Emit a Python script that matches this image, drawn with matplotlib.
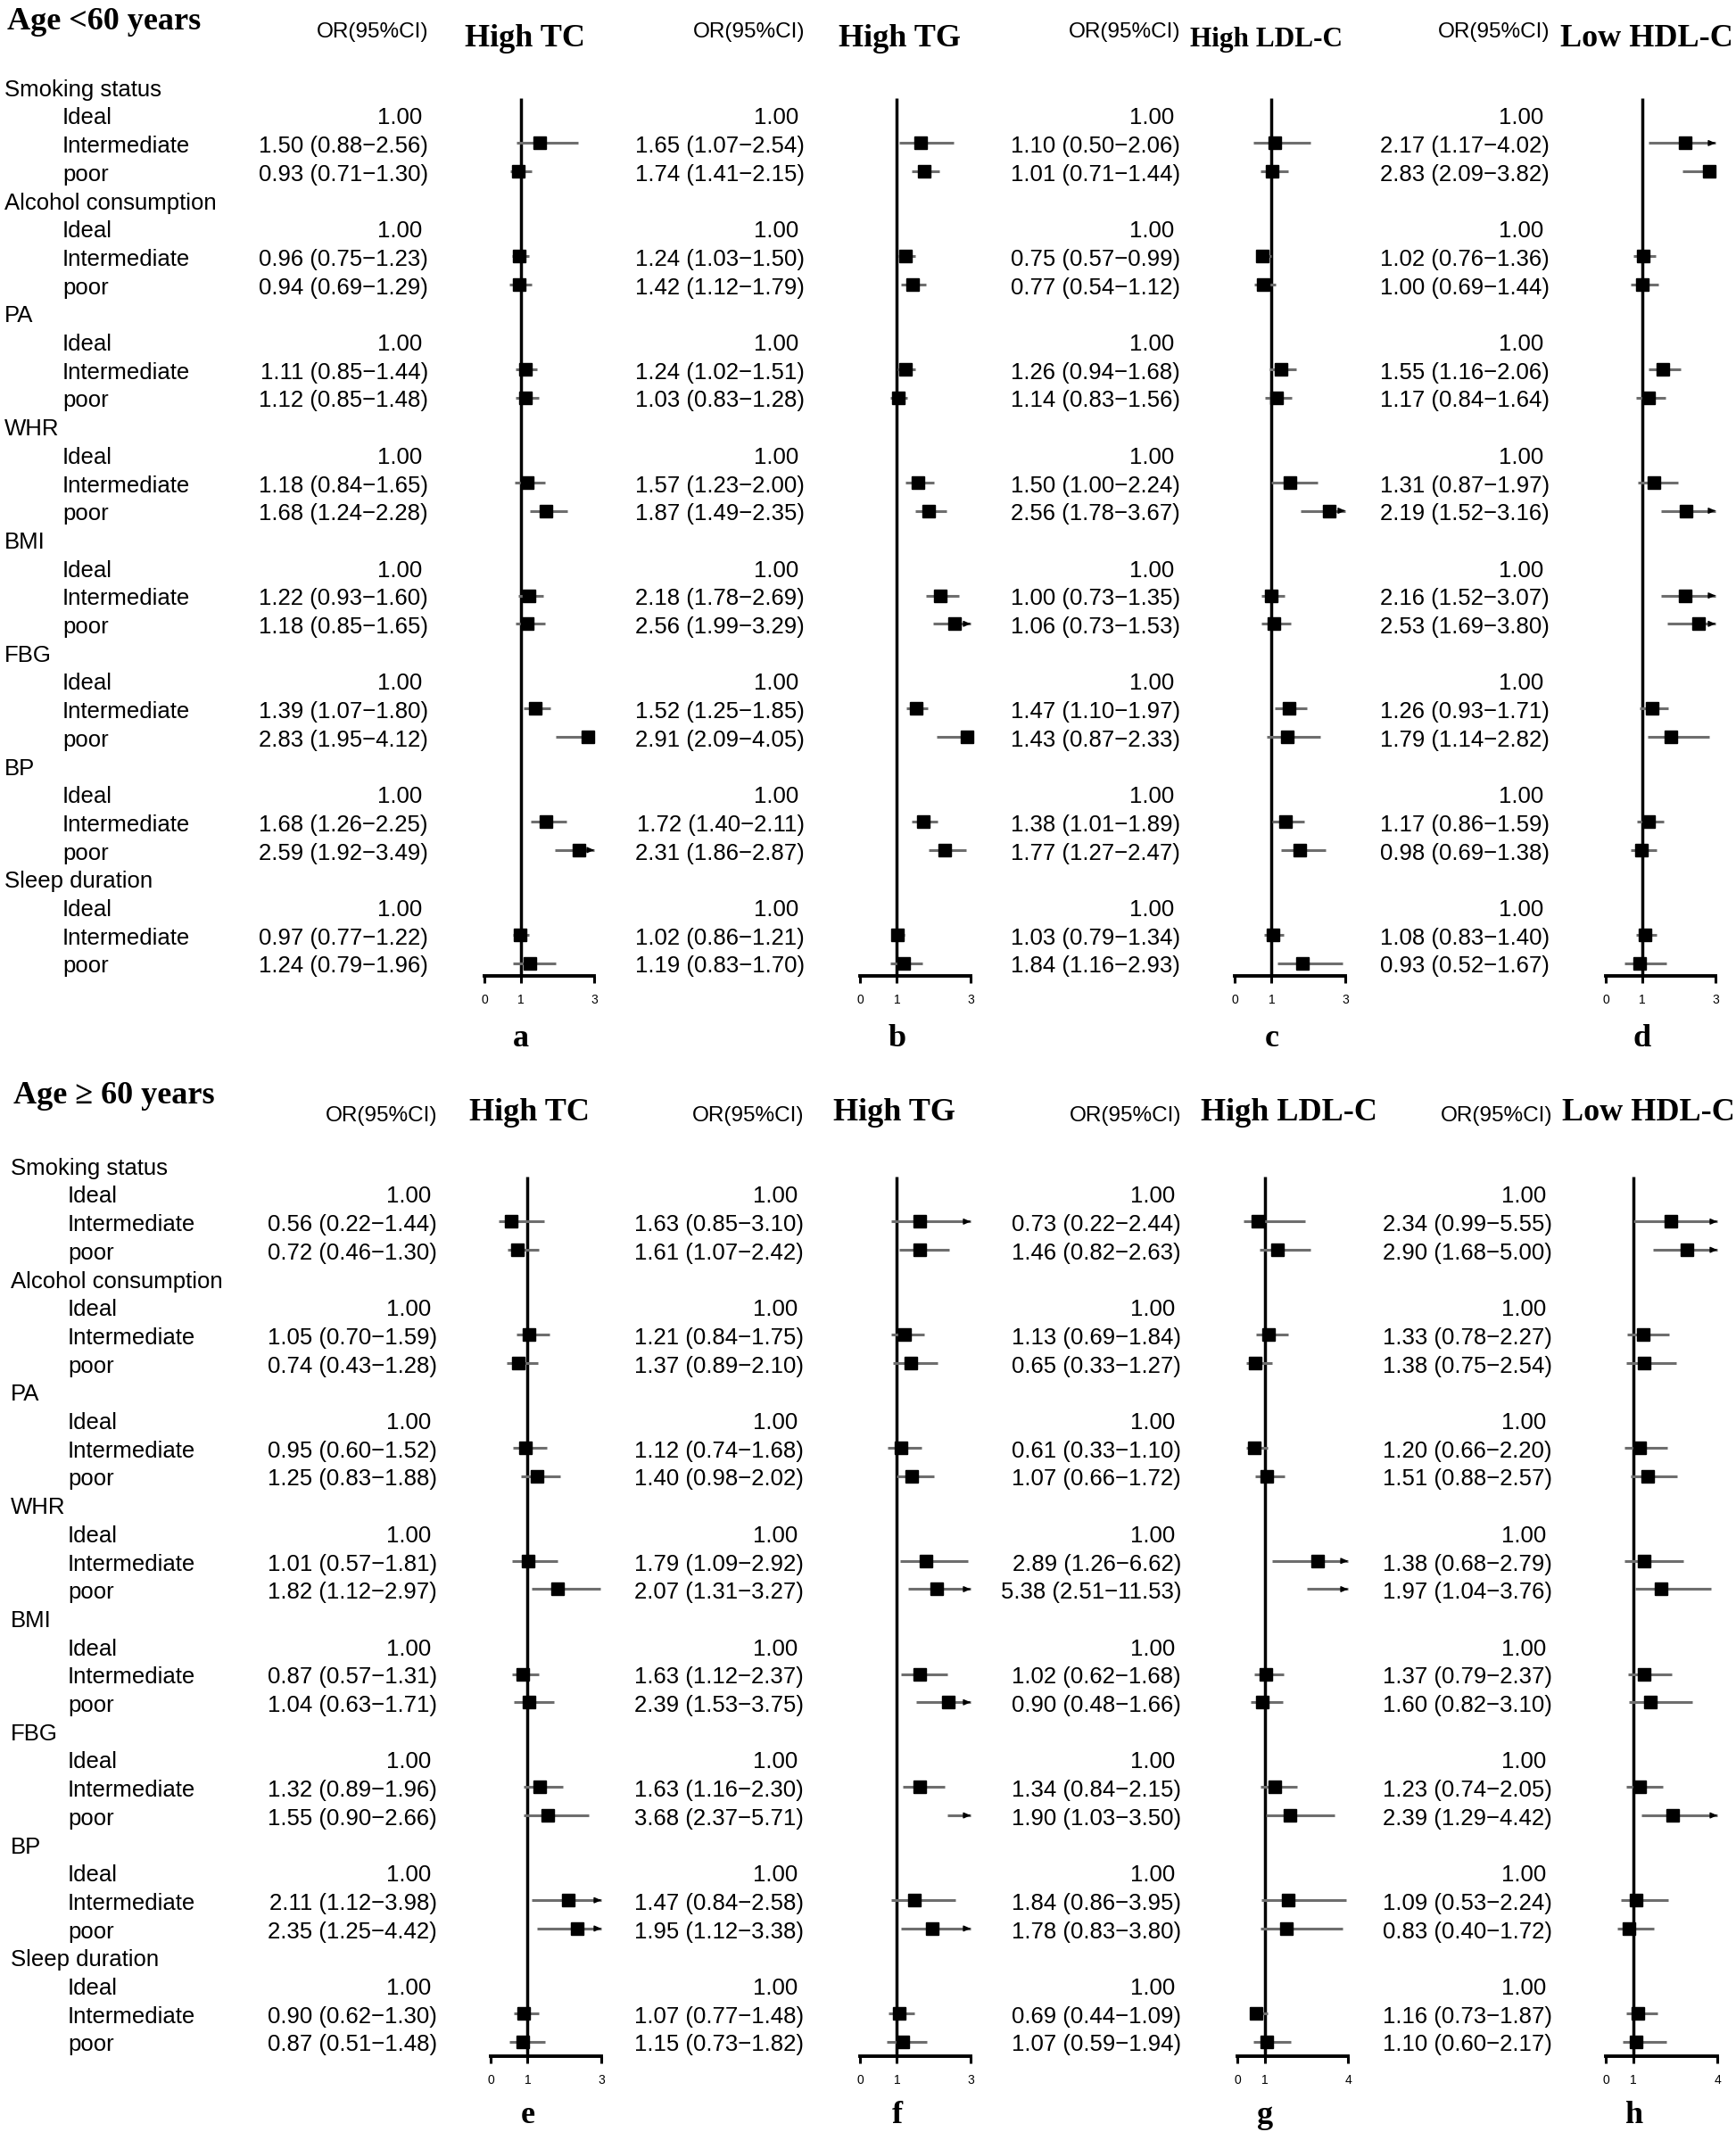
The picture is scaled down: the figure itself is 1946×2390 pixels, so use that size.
import matplotlib
matplotlib.use("Agg")
import matplotlib.pyplot as plt
from matplotlib import font_manager

# ---- data -------------------------------------------------------------
groups = ["Smoking status", "Alcohol consumption", "PA", "WHR", "BMI",
          "FBG", "BP", "Sleep duration"]
levels = ["Ideal", "Intermediate", "poor"]
outcomes = ["High TC", "High TG", "High LDL-C", "Low HDL-C"]

# (OR, lower, upper) for Intermediate / poor of each group, ideal = 1.00
young_tc = [(1.50, 0.88, 2.56), (0.93, 0.71, 1.30), (0.96, 0.75, 1.23), (0.94, 0.69, 1.29),
            (1.11, 0.85, 1.44), (1.12, 0.85, 1.48), (1.18, 0.84, 1.65), (1.68, 1.24, 2.28),
            (1.22, 0.93, 1.60), (1.18, 0.85, 1.65), (1.39, 1.07, 1.80), (2.83, 1.95, 4.12),
            (1.68, 1.26, 2.25), (2.59, 1.92, 3.49), (0.97, 0.77, 1.22), (1.24, 0.79, 1.96)]
young_tg = [(1.65, 1.07, 2.54), (1.74, 1.41, 2.15), (1.24, 1.03, 1.50), (1.42, 1.12, 1.79),
            (1.24, 1.02, 1.51), (1.03, 0.83, 1.28), (1.57, 1.23, 2.00), (1.87, 1.49, 2.35),
            (2.18, 1.78, 2.69), (2.56, 1.99, 3.29), (1.52, 1.25, 1.85), (2.91, 2.09, 4.05),
            (1.72, 1.40, 2.11), (2.31, 1.86, 2.87), (1.02, 0.86, 1.21), (1.19, 0.83, 1.70)]
young_ldl = [(1.10, 0.50, 2.06), (1.01, 0.71, 1.44), (0.75, 0.57, 0.99), (0.77, 0.54, 1.12),
             (1.26, 0.94, 1.68), (1.14, 0.83, 1.56), (1.50, 1.00, 2.24), (2.56, 1.78, 3.67),
             (1.00, 0.73, 1.35), (1.06, 0.73, 1.53), (1.47, 1.10, 1.97), (1.43, 0.87, 2.33),
             (1.38, 1.01, 1.89), (1.77, 1.27, 2.47), (1.03, 0.79, 1.34), (1.84, 1.16, 2.93)]
young_hdl = [(2.17, 1.17, 4.02), (2.83, 2.09, 3.82), (1.02, 0.76, 1.36), (1.00, 0.69, 1.44),
             (1.55, 1.16, 2.06), (1.17, 0.84, 1.64), (1.31, 0.87, 1.97), (2.19, 1.52, 3.16),
             (2.16, 1.52, 3.07), (2.53, 1.69, 3.80), (1.26, 0.93, 1.71), (1.79, 1.14, 2.82),
             (1.17, 0.86, 1.59), (0.98, 0.69, 1.38), (1.08, 0.83, 1.40), (0.93, 0.52, 1.67)]

old_tc = [(0.56, 0.22, 1.44), (0.72, 0.46, 1.30), (1.05, 0.70, 1.59), (0.74, 0.43, 1.28),
          (0.95, 0.60, 1.52), (1.25, 0.83, 1.88), (1.01, 0.57, 1.81), (1.82, 1.12, 2.97),
          (0.87, 0.57, 1.31), (1.04, 0.63, 1.71), (1.32, 0.89, 1.96), (1.55, 0.90, 2.66),
          (2.11, 1.12, 3.98), (2.35, 1.25, 4.42), (0.90, 0.62, 1.30), (0.87, 0.51, 1.48)]
old_tg = [(1.63, 0.85, 3.10), (1.61, 1.07, 2.42), (1.21, 0.84, 1.75), (1.37, 0.89, 2.10),
          (1.12, 0.74, 1.68), (1.40, 0.98, 2.02), (1.79, 1.09, 2.92), (2.07, 1.31, 3.27),
          (1.63, 1.12, 2.37), (2.39, 1.53, 3.75), (1.63, 1.16, 2.30), (3.68, 2.37, 5.71),
          (1.47, 0.84, 2.58), (1.95, 1.12, 3.38), (1.07, 0.77, 1.48), (1.15, 0.73, 1.82)]
old_ldl = [(0.73, 0.22, 2.44), (1.46, 0.82, 2.63), (1.13, 0.69, 1.84), (0.65, 0.33, 1.27),
           (0.61, 0.33, 1.10), (1.07, 0.66, 1.72), (2.89, 1.26, 6.62), (5.38, 2.51, 11.53),
           (1.02, 0.62, 1.68), (0.90, 0.48, 1.66), (1.34, 0.84, 2.15), (1.90, 1.03, 3.50),
           (1.84, 0.86, 3.95), (1.78, 0.83, 3.80), (0.69, 0.44, 1.09), (1.07, 0.59, 1.94)]
old_hdl = [(2.34, 0.99, 5.55), (2.90, 1.68, 5.00), (1.33, 0.78, 2.27), (1.38, 0.75, 2.54),
           (1.20, 0.66, 2.20), (1.51, 0.88, 2.57), (1.38, 0.68, 2.79), (1.97, 1.04, 3.76),
           (1.37, 0.79, 2.37), (1.60, 0.82, 3.10), (1.23, 0.74, 2.05), (2.39, 1.29, 4.42),
           (1.09, 0.53, 2.24), (0.83, 0.40, 1.72), (1.16, 0.73, 1.87), (1.10, 0.60, 2.17)]

# ---- layout (pixels) --------------------------------------------------
W, H = 1946, 2390
DY = 31.7
fig = plt.figure(figsize=(W / 100, H / 100), dpi=100)
fig.patch.set_facecolor("white")

names = {f.name for f in font_manager.fontManager.ttflist}
if "Liberation Sans Narrow" in names:
    SANS = ["Liberation Sans Narrow", "Liberation Sans", "DejaVu Sans"]
    FS = 22
else:
    SANS = ["Liberation Sans", "DejaVu Sans"]
    FS = 18.5
SERIF = ["Liberation Serif", "DejaVu Serif"]
TFS = 26

halves = [
    dict(title="Age <60 years", data=[young_tc, young_tg, young_ldl, young_hdl],
         ytop=0, ybot=1190, y0=97, title_row=-2.4, or_row=-2.08, head_row=-1.8,
         axis_row=31.44, letter_row=33.55, title_x=8, gx=5, sx=70,
         col_right=[480, 902, 1323, 1737], head_x=[588, 1009, 1420, 1846],
         head_fs=[TFS, TFS, 22.5, TFS],
         ax_px=[(543, 666), (964, 1088), (1384, 1508), (1800, 1923)],
         xmax=[3, 3, 3, 3], letters="abcd"),
    dict(title="Age \u2265 60 years", data=[old_tc, old_tg, old_ldl, old_hdl],
         ytop=1190, ybot=2390, y0=1306, title_row=-2.56, or_row=-1.9, head_row=-1.95,
         axis_row=31.5, letter_row=33.5, title_x=15, gx=12, sx=76,
         col_right=[490, 901, 1324, 1740], head_x=[593, 1003, 1445, 1848],
         head_fs=[TFS, TFS, TFS, TFS],
         ax_px=[(550, 674), (964, 1088), (1387, 1511), (1800, 1925)],
         xmax=[3, 3, 4, 4], letters="efgh"),
]


def add_ax(x0, x1, ytop, ybot):
    return fig.add_axes([x0 / W, 1 - ybot / H, (x1 - x0) / W, (ybot - ytop) / H])


for hf in halves:
    ylim = ((hf["ybot"] - hf["y0"]) / DY, (hf["ytop"] - hf["y0"]) / DY)
    lab = add_ax(0, W, hf["ytop"], hf["ybot"])
    lab.set_xlim(0, W)
    lab.set_ylim(*ylim)
    lab.axis("off")

    lab.text(hf["title_x"], hf["title_row"] + 0.38, hf["title"], family=SERIF,
             fontweight="bold", fontsize=TFS, ha="left", va="baseline")

    # row labels
    for gi, g in enumerate(groups):
        r = 4 * gi
        lab.text(hf["gx"], r + 0.34, g, family=SANS, fontsize=FS, va="baseline")
        for j, lev in enumerate(levels):
            lab.text(hf["sx"], r + 1 + j + 0.34, lev, family=SANS, fontsize=FS,
                     va="baseline")

    for k, vals in enumerate(hf["data"]):
        cx = hf["col_right"][k]
        lab.text(cx, hf["or_row"] + 0.34, "OR(95%CI)", family=SANS, fontsize=FS * 0.95,
                 ha="right", va="baseline")
        lab.text(hf["head_x"][k], hf["head_row"] + 0.38, outcomes[k], family=SERIF,
                 fontweight="bold", fontsize=hf["head_fs"][k], ha="center", va="baseline")

        xmax = hf["xmax"][k]
        px0, px1 = hf["ax_px"][k]
        ax = add_ax(px0, px1, hf["ytop"], hf["ybot"])
        ax.set_xlim(0, xmax)
        ax.set_ylim(*ylim)
        ax.patch.set_visible(False)
        for s in ["top", "left", "right"]:
            ax.spines[s].set_visible(False)
        ax.spines["bottom"].set_position(("data", hf["axis_row"]))
        ax.spines["bottom"].set_bounds(0, xmax)
        ax.spines["bottom"].set_linewidth(2.8)
        ax.set_yticks([])
        ax.set_xticks([0, 1, xmax])
        ax.set_xticklabels(["0", "1", str(xmax)], family=SANS, fontsize=10)
        ax.tick_params(axis="x", direction="out", length=6, width=2.2, pad=9)

        ax.vlines(1, 0.4, hf["axis_row"], color="black", lw=2.5, zorder=2)

        for gi in range(len(groups)):
            r = 4 * gi
            lab.text(cx - 7, r + 1 + 0.34, "1.00", family=SANS, fontsize=FS,
                     ha="right", va="baseline")
            for j in range(2):
                o, lo, hi = vals[2 * gi + j]
                y = r + 2 + j
                lab.text(cx, y + 0.34, f"{o:.2f} ({lo:.2f}\u2212{hi:.2f})",
                         family=SANS, fontsize=FS, ha="right", va="baseline")
                ax.hlines(y, max(lo, 0), min(hi, xmax), color="#6e6e6e", lw=2.2,
                          zorder=3, clip_on=False)
                if hi > xmax:
                    ax.annotate("", xy=(xmax, y), xytext=(xmax * 0.98, y),
                                arrowprops=dict(arrowstyle="-|>,head_length=0.5,head_width=0.22",
                                                color="black", lw=1.0, shrinkA=0, shrinkB=0,
                                                mutation_scale=9),
                                annotation_clip=False, zorder=4)
                if o <= xmax:
                    ax.plot(o, y, marker="s", ms=10.5, color="black", ls="none",
                            zorder=5, clip_on=False)

        ax.text(1, hf["letter_row"] + 0.38, hf["letters"][k], family=SERIF,
                fontweight="bold", fontsize=TFS, ha="center", va="baseline")

fig.savefig("out.png", dpi=100, facecolor="white")
